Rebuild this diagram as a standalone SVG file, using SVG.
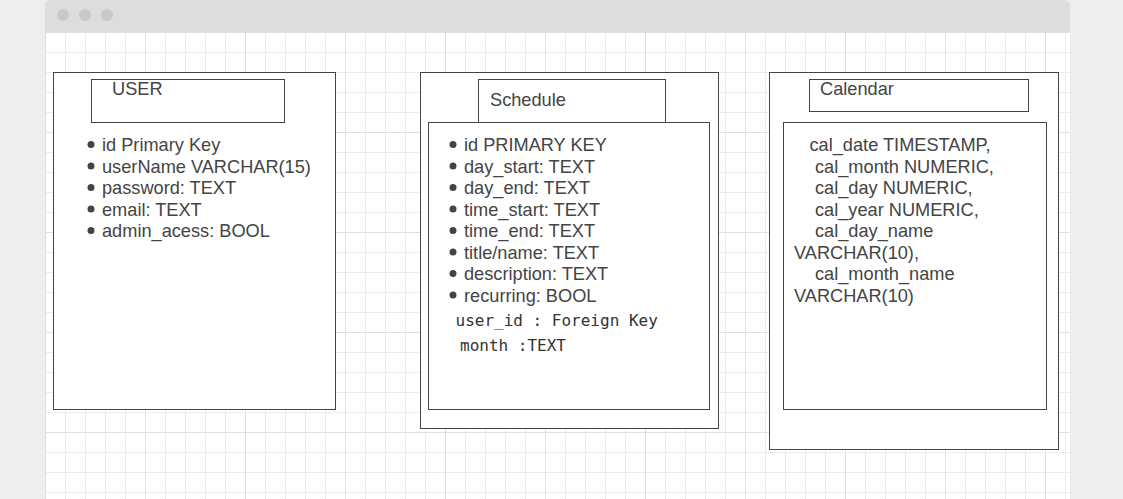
<svg xmlns="http://www.w3.org/2000/svg" width="1123" height="499" viewBox="0 0 1123 499">
  <style>
    .box { fill: #ffffff; stroke: #444444; stroke-width: 1; }
    .t { font-family: "Liberation Sans", Arial, sans-serif; font-size: 18.2px; fill: #444444; }
    .m { font-family: "DejaVu Sans Mono", monospace; font-size: 16px; fill: #333333; }
    .b { fill: #444444; }
  </style>
  <defs>
    <pattern id="grid" patternUnits="userSpaceOnUse" x="45" y="32" width="100" height="100">
      <path d="M20.5 0V100M40.5 0V100M60.5 0V100M80.5 0V100M0 20.5H100M0 40.5H100M0 60.5H100M0 80.5H100" stroke="#ececec" stroke-width="1" fill="none"/>
      <path d="M0.5 0V100M0 0.5H100" stroke="#e0e0e0" stroke-width="1" fill="none"/>
    </pattern>
  </defs>
  <rect x="0" y="0" width="1123" height="499" fill="#eeeeee"/>
  <path d="M45 32V6A6 6 0 0 1 51 0H1064A6 6 0 0 1 1070 6V32Z" fill="#dddddd"/>
  <circle cx="63" cy="15" r="6" fill="#c9c9c9"/>
  <circle cx="85" cy="15" r="6" fill="#c9c9c9"/>
  <circle cx="107" cy="15" r="6" fill="#c9c9c9"/>
  <rect x="45" y="32" width="1025" height="467" fill="#ffffff"/>
  <rect x="45" y="32" width="1025" height="467" fill="url(#grid)"/>
  <g id="connectors"/>
  <g id="user">
    <rect class="box" x="53.5" y="72.5" width="282" height="337"/>
    <rect class="box" x="91.5" y="79.5" width="193" height="43"/>
    <text class="t" x="112" y="95">USER</text>
    <circle class="b" cx="91" cy="144.5" r="3.5"/>
    <circle class="b" cx="91" cy="166" r="3.5"/>
    <circle class="b" cx="91" cy="187.5" r="3.5"/>
    <circle class="b" cx="91" cy="209" r="3.5"/>
    <circle class="b" cx="91" cy="230.5" r="3.5"/>
    <text class="t" x="102" y="151">id Primary Key</text>
    <text class="t" x="102" y="172.5">userName VARCHAR(15)</text>
    <text class="t" x="102" y="194">password: TEXT</text>
    <text class="t" x="102" y="215.5">email: TEXT</text>
    <text class="t" x="102" y="237">admin_acess: BOOL</text>
  </g>
  <g id="schedule">
    <rect class="box" x="420.5" y="72.5" width="298" height="356"/>
    <rect class="box" x="478.5" y="79.5" width="187" height="43"/>
    <text class="t" x="490" y="106">Schedule</text>
    <rect class="box" x="428.5" y="122.5" width="281" height="287"/>
    <circle class="b" cx="453" cy="144.5" r="3.5"/>
    <circle class="b" cx="453" cy="166" r="3.5"/>
    <circle class="b" cx="453" cy="187.5" r="3.5"/>
    <circle class="b" cx="453" cy="209" r="3.5"/>
    <circle class="b" cx="453" cy="230.5" r="3.5"/>
    <circle class="b" cx="453" cy="252" r="3.5"/>
    <circle class="b" cx="453" cy="273.5" r="3.5"/>
    <circle class="b" cx="453" cy="295" r="3.5"/>
    <text class="t" x="464" y="151">id PRIMARY KEY</text>
    <text class="t" x="464" y="172.5">day_start: TEXT</text>
    <text class="t" x="464" y="194">day_end: TEXT</text>
    <text class="t" x="464" y="215.5">time_start: TEXT</text>
    <text class="t" x="464" y="237">time_end: TEXT</text>
    <text class="t" x="464" y="258.5">title/name: TEXT</text>
    <text class="t" x="464" y="280">description: TEXT</text>
    <text class="t" x="464" y="301.5">recurring: BOOL</text>
    <text class="m" x="455.5" y="326">user_id : Foreign Key</text>
    <text class="m" x="460" y="351">month :TEXT</text>
  </g>
  <g id="calendar">
    <rect class="box" x="769.5" y="72.5" width="289" height="377"/>
    <rect class="box" x="809.5" y="79.5" width="219" height="32"/>
    <text class="t" x="820" y="95">Calendar</text>
    <rect class="box" x="783.5" y="122.5" width="263" height="287"/>
    <text class="t" x="809.5" y="151">cal_date TIMESTAMP,</text>
    <text class="t" x="815" y="172.5">cal_month NUMERIC,</text>
    <text class="t" x="815" y="194">cal_day NUMERIC,</text>
    <text class="t" x="815" y="215.5">cal_year NUMERIC,</text>
    <text class="t" x="815" y="237">cal_day_name</text>
    <text class="t" x="794" y="258.5">VARCHAR(10),</text>
    <text class="t" x="815" y="280">cal_month_name</text>
    <text class="t" x="794" y="301.5">VARCHAR(10)</text>
  </g>
</svg>
